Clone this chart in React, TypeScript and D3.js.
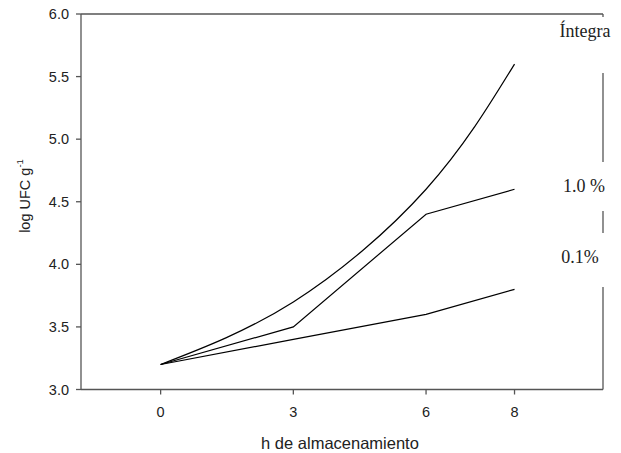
import React from "react";
import * as d3 from "d3";

const hours = [0, 3, 6, 8];
const xTickLabels = ["0", "3", "6", "8"];
const yTicks = [3.0, 3.5, 4.0, 4.5, 5.0, 5.5, 6.0];
const integra = [3.2, 3.7, 4.6, 5.6];
const pct10 = [3.2, 3.5, 4.4, 4.6];
const pct01 = [3.2, 3.4, 3.6, 3.8];
const seriesLabels = ["Íntegra", "1.0 %", "0.1%"];

const W = 621;
const H = 453;
const L = 81;
const R = 603;
const T = 14;
const B = 389.5;

export default function App() {
  const x = d3.scaleLinear().domain([-1.8, 10]).range([L, R]);
  const y = d3.scaleLinear().domain([3, 6]).range([B, T]);

  const smooth = d3
    .line<number>()
    .x((_, i) => x(hours[i]))
    .y((d) => y(d))
    .curve(d3.curveNatural);
  const straight = d3
    .line<number>()
    .x((_, i) => x(hours[i]))
    .y((d) => y(d));

  const axisColor = "#555";
  const sans = "Liberation Sans, Arial, sans-serif";
  const serif = "Liberation Serif, Times New Roman, serif";

  // right border segments (gaps around labels)
  const rightSegs: [number, number][] = [
    [T, 17],
    [73, 162],
    [211, 233],
    [287, B],
  ];
  const labelPos = [
    { x: 585, y: 37 },
    { x: 584, y: 192 },
    { x: 580, y: 263 },
  ];

  return (
    <svg
      width={W}
      height={H}
      style={{ position: "absolute", left: 0, top: 0, background: "#fff" }}
    >
      {/* frame */}
      <line x1={L} y1={T} x2={L} y2={B} stroke={axisColor} strokeWidth={1.3} />
      <line x1={L} y1={B} x2={R} y2={B} stroke={axisColor} strokeWidth={1.3} />
      <line x1={L} y1={T} x2={R} y2={T} stroke={axisColor} strokeWidth={1.3} />
      {rightSegs.map(([a, b], i) => (
        <line key={i} x1={R} y1={a} x2={R} y2={b} stroke={axisColor} strokeWidth={1.3} />
      ))}

      {/* y ticks */}
      {yTicks.map((t) => (
        <g key={t}>
          <line x1={L - 5} x2={L} y1={y(t)} y2={y(t)} stroke={axisColor} strokeWidth={1.3} />
          <text
            x={L - 12}
            y={y(t)}
            textAnchor="end"
            dominantBaseline="central"
            fontFamily={sans}
            fontSize={14.5}
            fill="#222"
          >
            {t.toFixed(1)}
          </text>
        </g>
      ))}

      {/* x ticks */}
      {hours.map((h, i) => (
        <g key={h}>
          <line x1={x(h)} x2={x(h)} y1={B} y2={B + 5} stroke={axisColor} strokeWidth={1.3} />
          <text
            x={x(h)}
            y={B + 22}
            textAnchor="middle"
            dominantBaseline="central"
            fontFamily={sans}
            fontSize={14.5}
            fill="#222"
          >
            {xTickLabels[i]}
          </text>
        </g>
      ))}

      {/* series */}
      <path d={smooth(integra) ?? ""} fill="none" stroke="#000" strokeWidth={1.2} />
      <path d={straight(pct10) ?? ""} fill="none" stroke="#000" strokeWidth={1.2} />
      <path d={straight(pct01) ?? ""} fill="none" stroke="#000" strokeWidth={1.2} />

      {/* series labels */}
      {seriesLabels.map((s, i) => (
        <text
          key={s}
          x={labelPos[i].x}
          y={labelPos[i].y}
          textAnchor="middle"
          fontFamily={serif}
          fontSize={18}
          fill="#222"
        >
          {s}
        </text>
      ))}

      {/* axis titles */}
      <text
        x={340}
        y={443}
        textAnchor="middle"
        dominantBaseline="central"
        fontFamily={sans}
        fontSize={16.5}
        fill="#222"
      >
        h de almacenamiento
      </text>
      <text
        transform={`translate(25, 196) rotate(-90)`}
        textAnchor="middle"
        dominantBaseline="central"
        fontFamily={sans}
        fontSize={14.5}
        fill="#222"
      >
        log UFC g<tspan dy={-6} fontSize={9.5}>-1</tspan>
      </text>
    </svg>
  );
}
